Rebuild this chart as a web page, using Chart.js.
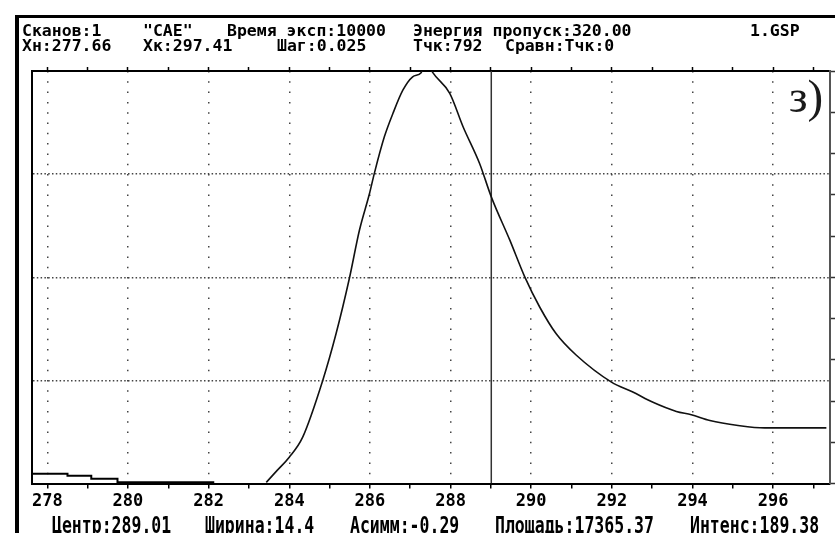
<!DOCTYPE html>
<html>
<head>
<meta charset="utf-8">
<script src="https://cdn.jsdelivr.net/npm/chart.js@4"></script>
<style>
  html, body { margin: 0; padding: 0; background: #fff; }
  #wrap { position: relative; width: 835px; height: 533px; overflow: hidden; }
  #frame { position: absolute; left: 15px; top: 15px; width: 830px; height: 530px;
           border-left: 4px solid #000; border-top: 3px solid #000; }
  canvas { position: absolute; left: 0; top: 0; }
  .hd { position: absolute; font: bold 16.5px "DejaVu Sans Mono", monospace; line-height: 16.5px;
        color: #000; white-space: pre; }
  .ft { position: absolute; font: bold 16.5px "DejaVu Sans Mono", monospace; line-height: 16.5px;
        color: #000; white-space: pre; transform: scaleY(1.4); transform-origin: 0 0; }
  #panel { position: absolute; left: 789px; top: 73px; font: 47px "Liberation Serif", serif;
           line-height: 46px; color: #1a1a1a; }
</style>
</head>
<body>
<div id="wrap">
  <div id="frame"></div>
  <canvas id="spectrum" width="835" height="533"></canvas>

  <span class="hd" style="left:22px;top:23px">Сканов:1</span>
  <span class="hd" style="left:143px;top:23px">"CAE"</span>
  <span class="hd" style="left:227px;top:23px">Время эксп:10000</span>
  <span class="hd" style="left:413px;top:23px">Энергия пропуск:320.00</span>
  <span class="hd" style="left:750px;top:23px">1.GSP</span>

  <span class="hd" style="left:22px;top:38px">Хн:277.66</span>
  <span class="hd" style="left:143px;top:38px">Хк:297.41</span>
  <span class="hd" style="left:277px;top:38px">Шаг:0.025</span>
  <span class="hd" style="left:413px;top:38px">Тчк:792</span>
  <span class="hd" style="left:505px;top:38px">Сравн:Тчк:0</span>

  <span class="ft" style="left:52px;top:515px">Центр:289.01</span>
  <span class="ft" style="left:205px;top:515px">Ширина:14.4</span>
  <span class="ft" style="left:350px;top:515px">Асимм:-0.29</span>
  <span class="ft" style="left:495px;top:515px">Площадь:17365.37</span>
  <span class="ft" style="left:690px;top:515px">Интенс:189.38</span>

  <div id="panel">з)</div>
</div>

<script>
// axis range (eV) and intensity range (relative units)
const xStart = 277.62;
const xEnd = 297.41;
const yMax = 10;
const centerE = 289.01;

// low-energy background tail
const tailE = [277.62, 278.50, 279.09, 279.74, 281.40, 282.14];
const tailI = [0.30, 0.24, 0.19, 0.12, 0.03, 0.03];

// main peak
const peakE = [283.43, 283.70, 284.00, 284.33, 284.83, 285.16, 285.49, 285.74, 285.99,
               286.11, 286.36, 286.57, 286.82, 287.06, 287.27, 287.40, 287.56, 287.98, 288.31,
               288.72, 289.01, 289.47, 289.84, 290.21, 290.62, 291.12, 291.99, 292.52, 293.02,
               293.60, 293.97, 294.43, 295.13, 295.79, 297.32];
const peakI = [0.03, 0.32, 0.64, 1.12, 2.50, 3.63, 4.97, 6.14, 7.03,
               7.52, 8.41, 8.97, 9.54, 9.86, 9.96, 10.25, 9.96, 9.46, 8.65,
               7.76, 6.95, 5.90, 5.01, 4.28, 3.63, 3.11, 2.46, 2.22, 1.97,
               1.75, 1.67, 1.53, 1.41, 1.35, 1.35];

const toPoints = (xs, ys) => xs.map((x, i) => ({ x: x, y: ys[i] }));

const dotted = '#444';
const tickFont = { family: '"DejaVu Sans Mono", monospace', size: 17, weight: 'bold' };

const config = {
    type: 'line',
    data: {
        datasets: [
            {
                label: 'tail',
                data: toPoints(tailE, tailI),
                borderColor: '#000',
                borderWidth: 2,
                stepped: 'after',
                pointRadius: 0
            },
            {
                label: 'peak',
                data: toPoints(peakE, peakI),
                borderColor: '#111',
                borderWidth: 1.6,
                cubicInterpolationMode: 'monotone',
                pointRadius: 0
            },
            {
                label: 'center',
                data: toPoints([centerE, centerE], [0, yMax]),
                borderColor: '#333',
                borderWidth: 1.5,
                pointRadius: 0
            }
        ]
    },
    options: {
        responsive: false,
        animation: false,
        events: [],
        layout: { padding: { left: 32, top: 67, right: 0, bottom: 18 } },
        plugins: { legend: { display: false }, tooltip: { enabled: false } },
        scales: {
            x: {
                type: 'linear',
                position: 'bottom',
                min: xStart,
                max: xEnd,
                ticks: {
                    stepSize: 1,
                    includeBounds: false,
                    autoSkip: false,
                    maxRotation: 0,
                    padding: 3,
                    color: '#000',
                    font: tickFont,
                    callback: (v) => (v % 2 === 0 ? String(v) : '')
                },
                grid: {
                    color: (c) => (c.tick && c.tick.value % 2 === 0 ? dotted : 'rgba(0,0,0,0)'),
                    lineWidth: 1.5,
                    tickLength: 5,
                    tickColor: '#000',
                    tickWidth: 1.5
                },
                border: { display: true, color: '#000', width: 2, dash: [1.5, 8.8] }
            },
            xTop: {
                type: 'linear',
                position: 'top',
                min: xStart,
                max: xEnd,
                ticks: { display: false, stepSize: 1, includeBounds: false },
                grid: { drawOnChartArea: false, tickLength: 4, tickColor: '#000', tickWidth: 1.5 },
                border: { display: true, color: '#000', width: 2 }
            },
            y: {
                position: 'left',
                min: 0,
                max: yMax,
                ticks: { display: false, stepSize: 2.5 },
                grid: {
                    color: (c) => (c.tick && c.tick.value > 0 && c.tick.value < yMax ? dotted : 'rgba(0,0,0,0)'),
                    lineWidth: 1.5,
                    drawTicks: false
                },
                border: { display: true, color: '#000', width: 2, dash: [1.5, 2.3] }
            },
            yRight: {
                position: 'right',
                min: 0,
                max: yMax,
                ticks: { display: false, stepSize: 1 },
                grid: { drawOnChartArea: false, tickLength: 5, tickColor: '#333', tickWidth: 1.5 },
                border: { display: true, color: '#555', width: 2 }
            }
        }
    }
};

// eslint-disable-next-line
const spectrumChart = new Chart(document.querySelector('#spectrum'), config);
</script>
</body>
</html>
